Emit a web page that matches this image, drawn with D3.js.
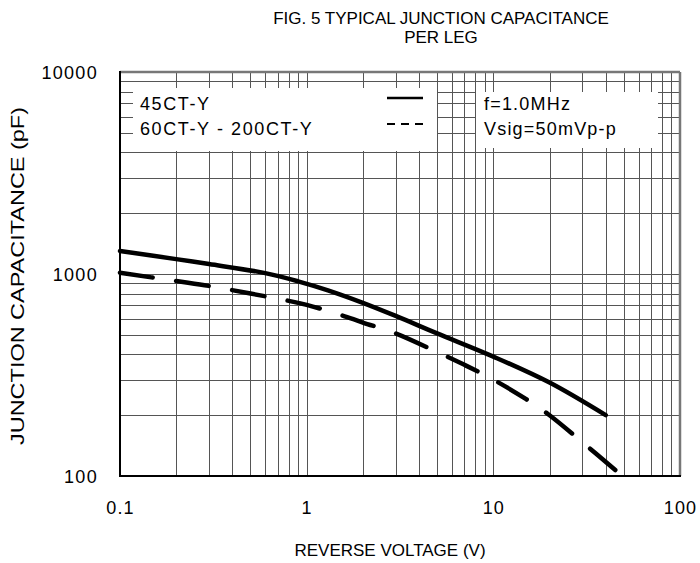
<!DOCTYPE html>
<html>
<head>
<meta charset="utf-8">
<script src="https://cdn.jsdelivr.net/npm/d3@7"></script>
<style>
  html, body { margin: 0; padding: 0; background: #fff; }
  svg { display: block; font-family: "Liberation Sans", Arial, sans-serif; }
</style>
</head>
<body>
<svg id="chart" width="700" height="563"></svg>
<script>
// ---- data ----
const titleLines = ["FIG. 5 TYPICAL JUNCTION CAPACITANCE", "PER LEG"];
const xTickValues = [0.1, 1, 10, 100];
const xTickLabels = ["0.1", "1", "10", "100"];
const yTickValues = [100, 1000, 10000];
const yTickLabels = ["100", "1000", "10000"];
const xTitle = "REVERSE VOLTAGE (V)";
const yTitle = "JUNCTION CAPACITANCE (pF)";
const seriesNames = ["45CT-Y", "60CT-Y - 200CT-Y"];
const conditionLines = ["f=1.0MHz", "Vsig=50mVp-p"];

const voltage45 = [0.1, 0.2, 0.3, 0.6, 0.9, 1.3, 2, 3, 5, 10, 20, 40];
const cap45     = [1300, 1185, 1120, 1010, 920, 830, 720, 620, 508, 390, 290, 200];

const voltage60 = [0.1, 0.2, 0.3, 0.5, 0.7, 1, 1.5, 2, 3, 5, 7, 10, 15, 20, 30, 45];
const cap60     = [1015, 923, 873, 800, 755, 703, 630, 575, 508, 411, 355, 300, 240, 200, 147, 107];

// ---- layout ----
const svg = d3.select("#chart");
const L = 120, R = 680, T = 72, B = 476;

const x = d3.scaleLog().domain([0.1, 100]).range([L, R]);
const y = d3.scaleLog().domain([100, 10000]).range([B, T]);

const gridX = [];
for (let d = 0.1; d < 100; d *= 10) for (let m = 1; m <= 9; m++) gridX.push(+(d * m).toPrecision(3));
gridX.push(100);
const gridY = [];
for (let d = 100; d < 10000; d *= 10) for (let m = 1; m <= 9; m++) gridY.push(d * m);
gridY.push(10000);

const g = svg.append("g");
g.selectAll("line.gx").data(gridX).join("line")
  .attr("x1", d => Math.round(x(d)) + 0.5).attr("x2", d => Math.round(x(d)) + 0.5)
  .attr("y1", T).attr("y2", B)
  .attr("stroke", "#555").attr("stroke-width", 1);
g.selectAll("line.gy").data(gridY).join("line")
  .attr("y1", d => Math.round(y(d)) + 0.5).attr("y2", d => Math.round(y(d)) + 0.5)
  .attr("x1", L).attr("x2", R)
  .attr("stroke", "#555").attr("stroke-width", 1);

// legend boxes (white, covering grid)
svg.append("rect").attr("x", 133).attr("y", 88).attr("width", 304).attr("height", 63).attr("fill", "#fff");
svg.append("rect").attr("x", 476).attr("y", 92).attr("width", 182).attr("height", 56).attr("fill", "#fff");

// frame
svg.append("line").attr("x1", L).attr("x2", R).attr("y1", T).attr("y2", T).attr("stroke", "#777").attr("stroke-width", 2.5);
svg.append("line").attr("x1", R).attr("x2", R).attr("y1", T).attr("y2", B).attr("stroke", "#777").attr("stroke-width", 2.5);
svg.append("line").attr("x1", L).attr("x2", L).attr("y1", T - 1).attr("y2", B + 1).attr("stroke", "#000").attr("stroke-width", 2);
svg.append("line").attr("x1", L - 1).attr("x2", R + 1).attr("y1", B).attr("y2", B).attr("stroke", "#000").attr("stroke-width", 2);

// curves
const line = d3.line().x(d => x(d[0])).y(d => y(d[1])).curve(d3.curveCatmullRom.alpha(0.5));
svg.append("path").datum(voltage45.map((v, i) => [v, cap45[i]]))
  .attr("d", line).attr("fill", "none").attr("stroke", "#000")
  .attr("stroke-width", 4.5).attr("stroke-linecap", "round").attr("stroke-linejoin", "round");
const dashed = svg.append("path").datum(voltage60.map((v, i) => [v, cap60[i]]))
  .attr("d", line).attr("fill", "none").attr("stroke", "#000")
  .attr("stroke-width", 4.5).attr("stroke-linecap", "round").attr("stroke-linejoin", "round");
// fit dash pattern so the curve starts and ends with a dash
{
  const total = dashed.node().getTotalLength();
  const dash = 33, period = 55;
  const n = Math.max(1, Math.round((total - dash) / period));
  const p = (total - dash) / n;
  dashed.attr("stroke-dasharray", `${dash},${p - dash}`);
}

// axes labels
const xAxis = d3.axisBottom(x).tickValues(xTickValues).tickFormat((d, i) => xTickLabels[i]).tickSize(0).tickPadding(0);
const xg = svg.append("g").attr("transform", `translate(0,${B})`).call(xAxis);
xg.select(".domain").remove();
xg.selectAll("text").attr("y", 38).attr("dy", 0).attr("fill", "#000")
  .style("font-size", "18px").style("letter-spacing", "1.2px").style("font-family", '"Liberation Sans", Arial, sans-serif');

const yAxis = d3.axisLeft(y).tickValues(yTickValues).tickFormat((d, i) => yTickLabels[i]).tickSize(0).tickPadding(0);
const yg = svg.append("g").attr("transform", `translate(${L},0)`).call(yAxis);
yg.select(".domain").remove();
yg.selectAll("text").attr("x", -22).attr("dy", "0.35em").attr("fill", "#000")
  .style("font-size", "18px").style("letter-spacing", "1.3px").style("font-family", '"Liberation Sans", Arial, sans-serif');

// titles
svg.selectAll("text.title").data(titleLines).join("text").attr("class", "title")
  .attr("x", 441).attr("y", (d, i) => 24 + i * 19)
  .attr("text-anchor", "middle").style("font-size", "17px").text(d => d);

svg.append("text").attr("x", 390).attr("y", 556).attr("text-anchor", "middle")
  .style("font-size", "17px").text(xTitle);

svg.append("text").attr("transform", "translate(24,276) rotate(-90)")
  .attr("text-anchor", "middle").style("font-size", "18px")
  .attr("textLength", 338).attr("lengthAdjust", "spacingAndGlyphs").text(yTitle);

// legend
svg.selectAll("text.leg").data(seriesNames).join("text").attr("class", "leg")
  .attr("x", 140).attr("y", (d, i) => 110 + i * 25)
  .style("font-size", "18px").style("letter-spacing", "1.6px").text(d => d);
svg.append("line").attr("x1", 387).attr("x2", 423).attr("y1", 98).attr("y2", 98)
  .attr("stroke", "#000").attr("stroke-width", 2.5);
svg.append("line").attr("x1", 387).attr("x2", 423).attr("y1", 124).attr("y2", 124)
  .attr("stroke", "#000").attr("stroke-width", 2).attr("stroke-dasharray", "8,6");
svg.selectAll("text.cond").data(conditionLines).join("text").attr("class", "cond")
  .attr("x", 484).attr("y", (d, i) => 110 + i * 25)
  .style("font-size", "18px").style("letter-spacing", "1.2px").text(d => d);
</script>
</body>
</html>
